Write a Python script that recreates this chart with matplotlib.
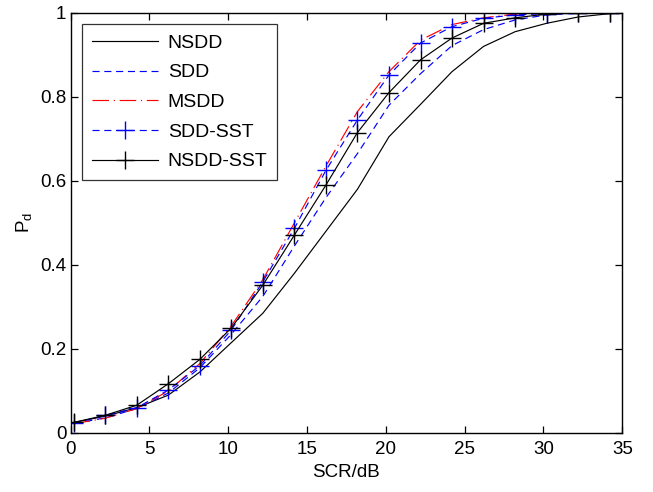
import matplotlib

matplotlib.use("Agg")
import matplotlib.pyplot as plt

plt.rcParams["font.family"] = ["Liberation Sans", "DejaVu Sans"]
plt.rcParams["mathtext.fontset"] = "custom"
plt.rcParams["mathtext.rm"] = "Liberation Sans"

# SCR sample points (dB); the last one lies past the axis limit and gets clipped
scr = [0.2, 2.2, 4.2, 6.2, 8.2, 10.2, 12.2, 14.2, 16.2, 18.2,
       20.2, 22.2, 24.2, 26.2, 28.2, 30.2, 32.2, 34.2, 36.2]

nsdd = [0.025, 0.040, 0.060, 0.090, 0.145, 0.215, 0.285, 0.380, 0.480, 0.580,
        0.705, 0.782, 0.860, 0.920, 0.955, 0.975, 0.990, 0.998, 1.000]
sdd = [0.022, 0.036, 0.058, 0.095, 0.155, 0.235, 0.325, 0.445, 0.560, 0.665,
       0.780, 0.855, 0.922, 0.960, 0.983, 0.995, 0.999, 1.000, 1.000]
msdd = [0.022, 0.035, 0.058, 0.100, 0.165, 0.255, 0.365, 0.500, 0.635, 0.765,
        0.860, 0.935, 0.972, 0.988, 0.997, 0.999, 1.000, 1.000, 1.000]
sdd_sst = [0.023, 0.042, 0.060, 0.102, 0.160, 0.245, 0.360, 0.487, 0.625, 0.745,
           0.852, 0.928, 0.967, 0.987, 0.995, 0.998, 1.000, 1.000, 1.000]
nsdd_sst = [0.025, 0.042, 0.066, 0.117, 0.175, 0.250, 0.352, 0.471, 0.590, 0.715,
            0.810, 0.888, 0.940, 0.975, 0.988, 0.997, 0.999, 1.000, 1.000]

fig = plt.figure(figsize=(6.53, 4.92), dpi=100)
ax = fig.add_axes([0.108, 0.12, 0.845, 0.854])

lw = 0.85
ax.plot(scr, nsdd, color="black", linewidth=lw, label="NSDD")
ax.plot(scr, sdd, color="blue", linewidth=lw, linestyle=(0, (6, 4)), label="SDD")
ax.plot(scr, msdd, color="red", linewidth=lw, linestyle=(0, (14, 4, 1, 4)), label="MSDD")
ax.plot(scr, sdd_sst, color="blue", linewidth=lw, linestyle=(0, (6, 4)),
        marker="+", markersize=13, markeredgewidth=1.0, label="SDD-SST")
ax.plot(scr, nsdd_sst, color="black", linewidth=lw,
        marker="+", markersize=13, markeredgewidth=1.0, label="NSDD-SST")

ax.set_xlim(0, 35)
ax.set_ylim(0, 1)
ax.set_xticks([0, 5, 10, 15, 20, 25, 30, 35])
ax.set_yticks([0, 0.2, 0.4, 0.6, 0.8, 1])
ax.set_yticklabels(["0", "0.2", "0.4", "0.6", "0.8", "1"])
ax.tick_params(direction="in", length=5, width=0.9, top=True, right=True,
               labelsize=13.5)
ax.tick_params(axis="x", pad=6)
ax.tick_params(axis="y", pad=3)
for s in ax.spines.values():
    s.set_linewidth(1.0)

ax.set_xlabel("SCR/dB", fontsize=13.5, labelpad=4)
ax.set_ylabel(r"P$_\mathrm{d}$", fontsize=13.5, labelpad=4)

leg = ax.legend(loc="upper left", fontsize=14, frameon=True, fancybox=False,
                edgecolor="black", handlelength=3.4, handletextpad=0.5,
                labelspacing=0.62, borderpad=0.5, borderaxespad=0.6)
leg.get_frame().set_linewidth(0.9)

fig.savefig("out.png", dpi=100)
